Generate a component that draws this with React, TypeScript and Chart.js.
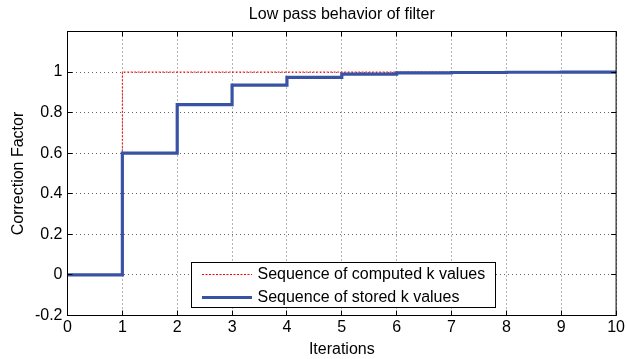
import React, { useEffect, useRef } from 'react';
import { Chart, registerables } from 'chart.js';

Chart.register(...registerables);

// ---- data ----
const iterations = [0, 1, 2, 3, 4, 5, 6, 7, 8, 9, 10];
const computedK = [0, 1, 1, 1, 1, 1, 1, 1, 1, 1, 1];
const storedK = [0, 0.6, 0.84, 0.936, 0.974, 0.99, 0.996, 0.998, 0.999, 1.0, 1.0];
const seriesLabels = ['Sequence of computed k values', 'Sequence of stored k values'];
const xTicks = [0, 1, 2, 3, 4, 5, 6, 7, 8, 9, 10];
const yTicks = [-0.2, 0, 0.2, 0.4, 0.6, 0.8, 1, 1.2];
const yTickLabels = ['-0.2', '0', '0.2', '0.4', '0.6', '0.8', '1', ''];
const titleText = 'Low pass behavior of filter';
const xTitle = 'Iterations';
const yTitle = 'Correction Factor';

const FONT_FAMILY = '"Liberation Sans", Arial, Helvetica, sans-serif';
const BLUE = '#3953a4';
const RED = '#ff0000';

const framePlugin = {
  id: 'matlabFrame',
  afterDatasetsDraw(chart: any) {
    const { ctx, chartArea: a, scales } = chart;
    const xs = scales.x;
    const ys = scales.y;
    ctx.save();
    ctx.strokeStyle = '#000';
    ctx.lineWidth = 1;
    ctx.setLineDash([]);
    const tl = 5;
    ctx.beginPath();
    xTicks.forEach((v) => {
      const px = Math.floor(xs.getPixelForValue(v)) + 0.5;
      ctx.moveTo(px, a.bottom);
      ctx.lineTo(px, a.bottom - tl);
      ctx.moveTo(px, a.top);
      ctx.lineTo(px, a.top + tl);
    });
    yTicks.forEach((v) => {
      const py = Math.floor(ys.getPixelForValue(v)) + 0.5;
      ctx.moveTo(a.left, py);
      ctx.lineTo(a.left + tl, py);
      ctx.moveTo(a.right, py);
      ctx.lineTo(a.right - tl, py);
    });
    ctx.stroke();
    ctx.strokeRect(a.left, a.top, a.right - a.left, a.bottom - a.top);

    // legend box
    const bx = 191.5, by = 262.5, bw = 304, bh = 45;
    ctx.fillStyle = '#fff';
    ctx.fillRect(bx, by, bw, bh);
    ctx.strokeRect(bx, by, bw, bh);
    const rows = [274.5, 297.5];
    const ds = chart.data.datasets;
    [0, 1].forEach((i) => {
      const d = ds[i];
      ctx.beginPath();
      ctx.strokeStyle = d.borderColor;
      ctx.lineWidth = d.borderWidth;
      ctx.setLineDash(d.borderDash || []);
      ctx.moveTo(202, rows[i]);
      ctx.lineTo(252, rows[i]);
      ctx.stroke();
      ctx.setLineDash([]);
      ctx.fillStyle = '#000';
      ctx.font = '16px ' + FONT_FAMILY;
      ctx.textAlign = 'left';
      ctx.textBaseline = 'middle';
      ctx.fillText(d.label, 257.5, rows[i]);
    });
    ctx.restore();
  },
};

export default function App() {
  const ref = useRef<HTMLCanvasElement | null>(null);
  useEffect(() => {
    if (!ref.current) return;
    const chart = new Chart(ref.current, {
      type: 'line',
      data: {
        datasets: [
          {
            label: seriesLabels[0],
            data: iterations.map((x, i) => ({ x, y: computedK[i] })),
            borderColor: RED,
            borderWidth: 1,
            borderDash: [2, 1.5],
            stepped: 'before',
            pointRadius: 0,
            fill: false,
            order: 1,
          },
          {
            label: seriesLabels[1],
            data: iterations.map((x, i) => ({ x, y: storedK[i] })),
            borderColor: BLUE,
            borderWidth: 3.2,
            stepped: 'before',
            pointRadius: 0,
            fill: false,
            order: 0,
          },
        ],
      },
      options: {
        responsive: false,
        animation: false,
        devicePixelRatio: 1,
        layout: { padding: { left: 0, right: 9.5, top: 0, bottom: 0 } },
        plugins: {
          legend: { display: false },
          tooltip: { enabled: false },
          title: {
            display: true,
            fullSize: false,
            text: titleText,
            color: '#000',
            font: { family: FONT_FAMILY, size: 16, weight: 'normal', lineHeight: 1.2 },
            padding: { top: 5, bottom: 7.3 },
          },
        },
        scales: {
          x: {
            type: 'linear',
            min: 0,
            max: 10,
            afterBuildTicks: (s: any) => {
              s.ticks = xTicks.map((v) => ({ value: v }));
            },
            afterFit: (s: any) => {
              s.height = 43.5;
            },
            ticks: {
              color: '#000',
              padding: 2,
              maxRotation: 0,
              autoSkip: false,
              font: { family: FONT_FAMILY, size: 16 },
              callback: (v: any) => String(v),
            },
            grid: {
              color: 'rgba(0,0,0,0.6)',
              lineWidth: 1,
              drawTicks: false,
            },
            border: { display: false, dash: [1, 3] },
            title: {
              display: true,
              text: xTitle,
              color: '#000',
              font: { family: FONT_FAMILY, size: 16, lineHeight: 1.2 },
              padding: { top: 0, bottom: 0 },
            },
          },
          y: {
            type: 'linear',
            min: -0.2,
            max: 1.2,
            afterBuildTicks: (s: any) => {
              s.ticks = yTicks.map((v) => ({ value: v }));
            },
            afterFit: (s: any) => {
              s.width = 67.5;
            },
            ticks: {
              color: '#000',
              padding: 5,
              autoSkip: false,
              font: { family: FONT_FAMILY, size: 16 },
              callback: (v: any, i: number) => yTickLabels[i],
            },
            grid: {
              color: 'rgba(0,0,0,0.6)',
              lineWidth: 1,
              drawTicks: false,
            },
            border: { display: false, dash: [1, 3] },
            title: {
              display: true,
              text: yTitle,
              color: '#000',
              font: { family: FONT_FAMILY, size: 16, lineHeight: 1.2 },
              padding: { top: 9, bottom: 0 },
            },
          },
        },
      },
      plugins: [framePlugin],
    } as any);
    return () => chart.destroy();
  }, []);
  return (
    <div style={{ position: 'absolute', left: 0, top: 0, width: 627, height: 359, background: '#fff' }}>
      <canvas ref={ref} width={627} height={359} style={{ display: 'block' }} />
    </div>
  );
}
